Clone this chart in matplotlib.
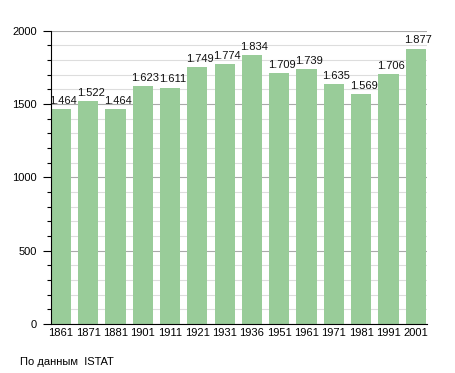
import matplotlib.pyplot as plt
from matplotlib.ticker import MultipleLocator

# census years and resident population
years = ["1861", "1871", "1881", "1901", "1911", "1921", "1931",
         "1936", "1951", "1961", "1971", "1981", "1991", "2001"]
population = [1464, 1522, 1464, 1623, 1611, 1749, 1774,
              1834, 1709, 1739, 1635, 1569, 1706, 1877]
bar_labels = ["1.464", "1.522", "1.464", "1.623", "1.611", "1.749", "1.774",
              "1.834", "1.709", "1.739", "1.635", "1.569", "1.706", "1.877"]

plt.rcParams["font.family"] = ["Liberation Sans", "DejaVu Sans"]

fig = plt.figure(figsize=(4.55, 3.73), dpi=100)
ax = fig.add_axes([0.1114, 0.131, 0.827, 0.787])

w = 0.74
xs = range(len(years))
ax.bar(xs, population, width=w, color="#99cc99", zorder=3)

# labels sit slightly right of bar centre, like the original
for x, v, lab in zip(xs, population, bar_labels):
    ax.text(x + 0.09, v + 22, lab, ha="center", va="bottom", fontsize=8, color="#111111")

ax.set_xlim(-w / 2, len(years) - 1 + w / 2 + 0.04)
ax.set_ylim(0, 2000)
ax.set_xticks(list(xs))
ax.set_xticklabels(years, fontsize=8)
ax.tick_params(axis="x", length=0, pad=3)
ax.yaxis.set_major_locator(MultipleLocator(500))
ax.yaxis.set_minor_locator(MultipleLocator(100))
ax.tick_params(axis="y", which="major", length=5.5, width=0.8, labelsize=8, pad=4.5)
ax.tick_params(axis="y", which="minor", length=3, width=0.8)

ax.grid(axis="y", which="major", color="#aaaaaa", linewidth=0.8, zorder=1)
ax.grid(axis="y", which="minor", color="#dddddd", linewidth=0.8, zorder=1)
ax.set_axisbelow(True)

for s in ["top", "right"]:
    ax.spines[s].set_visible(False)
ax.spines["left"].set_zorder(4)
ax.spines["bottom"].set_zorder(4)

fig.text(20 / 455, 1 - 362 / 373, "По данным  ISTAT", fontsize=8, va="center")

fig.savefig("out.png", dpi=100)
